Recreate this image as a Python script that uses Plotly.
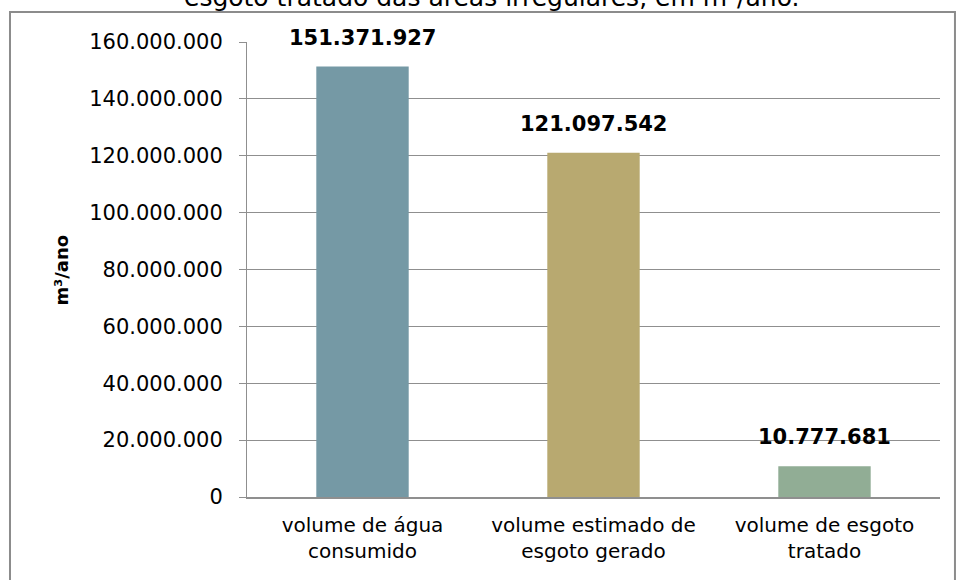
import plotly.graph_objects as go

# Volumes per category (m³/ano)
categories = [
    "volume de água<br>consumido",
    "volume estimado de<br>esgoto gerado",
    "volume de esgoto<br>tratado",
]
values = [151371927, 121097542, 10777681]
bar_colors = ["#7599A5", "#B8A970", "#91AD95"]

y_ticks = [0, 20000000, 40000000, 60000000, 80000000, 100000000, 120000000, 140000000, 160000000]

FONT = "Century Gothic, URW Gothic, DejaVu Sans, sans-serif"
GRID = "#8f8f8f"


def fmt_br(v):
    return f"{v:,}".replace(",", ".")


fig = go.Figure(
    go.Bar(
        x=categories,
        y=values,
        marker=dict(color=bar_colors, line=dict(width=0)),
        width=0.4,
        hoverinfo="skip",
    )
)

# Value labels above each bar
for cat, v in zip(categories, values):
    fig.add_annotation(
        x=cat, y=v, xref="x", yref="y",
        text=f"<b>{fmt_br(v)}</b>",
        showarrow=False, yanchor="middle", yshift=29,
        font=dict(family=FONT, size=21, color="#000000"),
    )

# Axis title
fig.add_annotation(
    x=-0.267, y=0.5, xref="paper", yref="paper",
    xanchor="center", yanchor="middle",
    text="<b>m³/ano</b>", textangle=-90, showarrow=False,
    font=dict(family=FONT, size=18, color="#000000"),
)

# Chart title (second line, sitting at the top edge)
fig.add_annotation(
    x=0.3535, y=1.0978, xref="paper", yref="paper",
    text="esgoto tratado das áreas irregulares, em m³/ano.",
    showarrow=False, yanchor="middle",
    font=dict(family=FONT, size=25, color="#000000"),
)

# Chart frame
fig.add_shape(
    type="rect", xref="paper", yref="paper",
    x0=-0.342, x1=1.0216, y0=-0.3, y1=1.0659,
    line=dict(color="#8c8c8c", width=2), fillcolor="rgba(0,0,0,0)",
    layer="below",
)

fig.update_layout(
    width=956, height=580,
    margin=dict(l=247, r=16, t=42, b=83),
    paper_bgcolor="white", plot_bgcolor="white",
    separators=",.",
    showlegend=False,
    font=dict(family=FONT, color="#000000"),
    bargap=0.6,
)

fig.update_yaxes(
    range=[0, 160000000],
    tickvals=y_ticks,
    tickformat=",d",
    showgrid=True, gridcolor=GRID, gridwidth=1,
    showline=True, linecolor=GRID, linewidth=1,
    ticks="outside", ticklen=7, tickcolor=GRID,
    ticklabelstandoff=12,
    tickfont=dict(family=FONT, size=21, color="#000000"),
    zeroline=False,
)

fig.update_xaxes(
    showline=True, linecolor=GRID, linewidth=2,
    showgrid=False, ticks="",
    tickfont=dict(family=FONT, size=20, color="#000000"),
    ticklabelstandoff=9,
)

fig.write_html("out.html")
